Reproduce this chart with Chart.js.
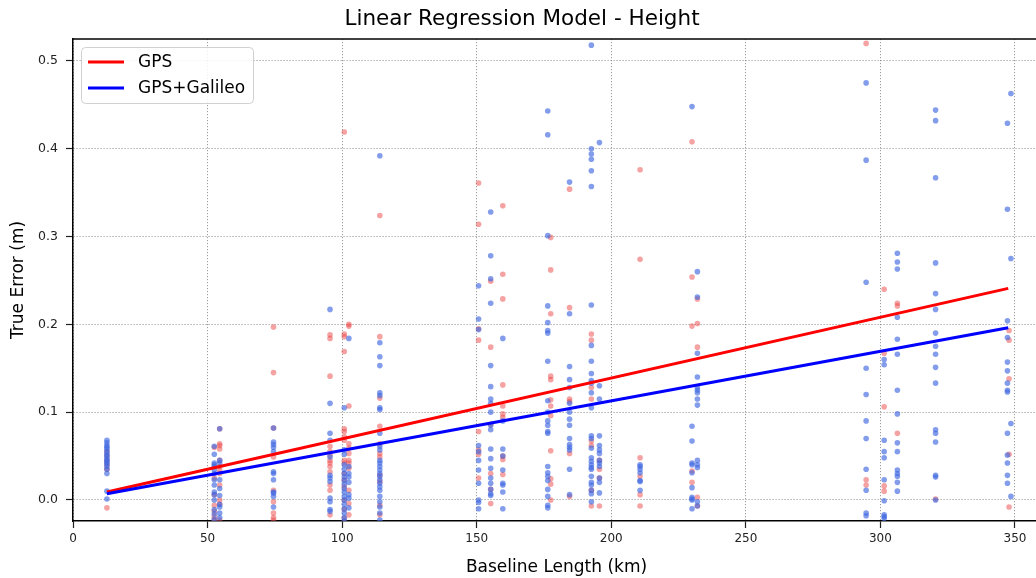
<!DOCTYPE html>
<html>
<head>
<meta charset="utf-8">
<script src="https://cdn.jsdelivr.net/npm/chart.js@4/dist/chart.umd.min.js"></script>
<style>
  html, body { margin: 0; padding: 0; background: #fff; overflow: hidden; }
  #wrap { width: 1044px; height: 578px; }
</style>
</head>
<body>
<div id="wrap"><canvas id="chart" width="1044" height="578"></canvas></div>
<script>
// baselines (km) and the true height errors (m) seen at each of them
const gpsBaselines = [12.6, 52.5, 54.5, 74.5, 95.5, 100.8, 102.5, 114, 150.7, 155.2, 159.7, 177.5, 184.5,
  192.6, 195.6, 210.7, 230, 232, 294.7, 301.4, 306.3, 320.5, 347.8];
const gpsErrors = [
  [-0.009, 0.04, 0.045, 0.05, 0.055, 0.035],
  [0.06, -0.006, -0.013, -0.019, -0.023, 0.006, 0.025],
  [0.064, 0.062, 0.058, 0.038, 0.034, 0.03, 0.017, 0.0, -0.023, 0.045, -0.005, 0.081],
  [0.197, 0.145, 0.082, 0.049, 0.011, -0.002, -0.015, -0.02, -0.023],
  [0.188, 0.184, 0.141, 0.061, 0.055, 0.051, 0.045, 0.042, 0.038, 0.032, 0.017, 0.011, -0.017],
  [0.419, 0.189, 0.186, 0.169, 0.081, 0.078, 0.072, 0.068, 0.045, 0.042, 0.03, 0.023, 0.015, 0.0, -0.011, -0.021],
  [0.2, 0.198, 0.107, 0.064, 0.059, 0.053, 0.045, 0.042, 0.036, 0.011, -0.004, -0.017],
  [0.324, 0.186, 0.116, 0.084, 0.064, 0.053, 0.049, 0.028, 0.021, -0.006, -0.017],
  [0.361, 0.314, 0.195, 0.182, 0.078, 0.057, 0.052, 0.025],
  [0.249, 0.174, 0.086, 0.03, 0.012, -0.004],
  [0.335, 0.257, 0.229, 0.131, 0.107, 0.098, 0.094, 0.05, 0.046, 0.029],
  [0.299, 0.262, 0.212, 0.141, 0.137, 0.114, 0.107, 0.096, 0.056, 0.024, 0.018, 0.0],
  [0.354, 0.219, 0.115, 0.112, 0.053, 0.004],
  [0.189, 0.182, 0.128, 0.115, 0.067, 0.062, 0.011, -0.007],
  [0.045, 0.035, 0.025, -0.007],
  [0.376, 0.274, 0.048, 0.027, 0.006, -0.007],
  [0.408, 0.254, 0.198, 0.033, 0.02],
  [0.229, 0.201, 0.174, 0.003, -0.007],
  [0.52, 0.023, 0.017],
  [0.24, 0.167, 0.106, 0.016, 0.01],
  [0.224, 0.221, 0.076],
  [0.001],
  [0.193, 0.182, 0.138, 0.052, -0.008]
];

const galBaselines = [12.6, 52.5, 54.5, 74.5, 95.5, 100.8, 102.5, 114, 150.7, 155.2, 159.7, 176.4, 184.5,
  192.6, 195.6, 210.7, 230, 232, 294.7, 301.4, 306.3, 320.5, 347.2, 348.5];
const galErrors = [
  [0.068, 0.065, 0.062, 0.06, 0.058, 0.055, 0.052, 0.05, 0.047, 0.045, 0.043, 0.041, 0.038, 0.035, 0.03, 0.01, 0.001],
  [0.061, 0.052, 0.042, 0.04, 0.038, 0.034, 0.03, 0.023, 0.017, 0.009, 0.006, 0.0, -0.011, -0.016, -0.022],
  [0.081, 0.045, 0.042, 0.023, 0.013, 0.005, -0.005, -0.008, -0.015, -0.02],
  [0.082, 0.066, 0.063, 0.06, 0.055, 0.032, 0.03, 0.023, 0.009, 0.008, 0.004, -0.008],
  [0.217, 0.11, 0.076, 0.068, 0.049, 0.028, 0.025, 0.021, 0.002, -0.002, -0.011, -0.013],
  [0.105, 0.057, 0.052, 0.04, 0.035, 0.03, 0.026, 0.022, 0.018, 0.013, 0.009, 0.004, 0.0, -0.005, -0.01, -0.015, -0.02, -0.024],
  [0.184, 0.038, 0.03, 0.026, 0.02, 0.006, 0.002, -0.009],
  [0.392, 0.179, 0.163, 0.153, 0.122, 0.119, 0.105, 0.103, 0.076, 0.061, 0.057, 0.045, 0.042, 0.038, 0.034, 0.03,
   0.027, 0.023, 0.019, 0.015, 0.011, 0.004, -0.002, -0.008, -0.015, -0.023],
  [0.244, 0.206, 0.194, 0.062, 0.055, 0.045, 0.034, 0.019, 0.0, -0.003, -0.01],
  [0.328, 0.278, 0.252, 0.224, 0.153, 0.129, 0.115, 0.11, 0.1, 0.085, 0.08, 0.058, 0.047, 0.036, 0.025, 0.019, 0.012, 0.007, 0.005],
  [0.184, 0.09, 0.058, 0.05, 0.034, 0.019, 0.017, 0.009, -0.01],
  [0.443, 0.416, 0.301, 0.221, 0.202, 0.193, 0.19, 0.158, 0.113, 0.1, 0.09, 0.085, 0.078, 0.076, 0.038, 0.031,
   0.027, 0.022, 0.012, 0.004, -0.006, -0.009],
  [0.362, 0.212, 0.152, 0.137, 0.128, 0.11, 0.1, 0.092, 0.085, 0.07, 0.063, 0.06, 0.057, 0.035, 0.006],
  [0.518, 0.4, 0.394, 0.388, 0.375, 0.357, 0.222, 0.176, 0.158, 0.144, 0.136, 0.133, 0.122, 0.105, 0.073, 0.07,
   0.059, 0.048, 0.044, 0.04, 0.037, 0.035, 0.027, 0.02, 0.017, 0.011, 0.007, -0.002],
  [0.407, 0.13, 0.115, 0.073, 0.062, 0.057, 0.053, 0.045, 0.042, 0.038, 0.025, 0.02, 0.008],
  [0.04, 0.038, 0.035, 0.031, 0.022, 0.021, 0.011],
  [0.448, 0.084, 0.067, 0.042, 0.04, 0.031, 0.014, 0.003, 0.001, 0.0, -0.01],
  [0.26, 0.231, 0.167, 0.14, 0.128, 0.125, 0.122, 0.115, 0.108, 0.045, 0.04, 0.037, -0.002, -0.007],
  [0.475, 0.387, 0.248, 0.15, 0.12, 0.09, 0.07, 0.035, 0.011, -0.015, -0.018],
  [0.16, 0.154, 0.068, 0.055, 0.048, 0.023, -0.001, -0.017, -0.019, -0.021],
  [0.281, 0.271, 0.263, 0.208, 0.183, 0.166, 0.125, 0.098, 0.065, 0.055, 0.034, 0.03, 0.027, 0.02, 0.01],
  [0.444, 0.432, 0.367, 0.27, 0.235, 0.217, 0.19, 0.175, 0.166, 0.151, 0.133, 0.08, 0.076, 0.066, 0.028, 0.026, 0.0],
  [0.429, 0.331, 0.204, 0.185, 0.157, 0.147, 0.133, 0.125, 0.123, 0.076, 0.051, 0.042, 0.028, 0.019],
  [0.463, 0.275, 0.087, 0.004]
];

// fitted lines, end points
const fitX = [12.6, 347.5];
const gpsFit = [0.009, 0.241];
const galFit = [0.007, 0.196];

const seriesNames = ['GPS', 'GPS+Galileo'];
const xTicks = [0, 50, 100, 150, 200, 250, 300, 350];
const yTicks = [0.0, 0.1, 0.2, 0.3, 0.4, 0.5];

function toPoints(xs, ys) {
  const pts = [];
  xs.forEach((x, i) => ys[i].forEach(v => pts.push({ x: x, y: v })));
  return pts;
}

const FONT = "'DejaVu Sans', sans-serif";

const topSpine = {
  id: 'topSpine',
  afterDraw(chart) {
    const { ctx, chartArea } = chart;
    ctx.save();
    ctx.strokeStyle = '#000';
    ctx.lineWidth = 1.3;
    ctx.beginPath();
    ctx.moveTo(chartArea.left, chartArea.top);
    ctx.lineTo(chartArea.right, chartArea.top);
    ctx.stroke();
    ctx.restore();
  }
};

const legendBox = {
  id: 'legendBox',
  afterDraw(chart) {
    const ctx = chart.ctx;
    ctx.save();
    ctx.beginPath();
    ctx.roundRect(81.5, 47.5, 172, 56, 4);
    ctx.fillStyle = 'rgba(255,255,255,0.85)';
    ctx.fill();
    ctx.strokeStyle = '#d0d0d0';
    ctx.lineWidth = 1;
    ctx.stroke();
    const cols = ['#ff0000', '#0000ff'];
    const ys = [62, 88];
    ctx.font = '17px ' + FONT;
    ctx.textBaseline = 'middle';
    ctx.textAlign = 'left';
    seriesNames.forEach((name, i) => {
      ctx.strokeStyle = cols[i];
      ctx.lineWidth = 3;
      ctx.beginPath();
      ctx.moveTo(88, ys[i]);
      ctx.lineTo(124, ys[i]);
      ctx.stroke();
      ctx.fillStyle = '#000';
      ctx.fillText(name, 138, ys[i] + 1);
    });
    ctx.restore();
  }
};

new Chart(document.getElementById('chart'), {
  type: 'scatter',
  data: {
    datasets: [
      {
        label: seriesNames[1] + ' fit',
        type: 'line',
        data: fitX.map((x, i) => ({ x: x, y: galFit[i] })),
        borderColor: '#0000ff',
        borderWidth: 3,
        pointRadius: 0,
        fill: false,
        order: 0
      },
      {
        label: seriesNames[0] + ' fit',
        type: 'line',
        data: fitX.map((x, i) => ({ x: x, y: gpsFit[i] })),
        borderColor: '#ff0000',
        borderWidth: 3,
        pointRadius: 0,
        fill: false,
        order: 1
      },
      {
        label: seriesNames[1],
        data: toPoints(galBaselines, galErrors),
        backgroundColor: 'rgba(65,105,225,0.65)',
        borderWidth: 0,
        pointRadius: 2.8,
        order: 2
      },
      {
        label: seriesNames[0],
        data: toPoints(gpsBaselines, gpsErrors),
        backgroundColor: 'rgba(235,70,70,0.5)',
        borderWidth: 0,
        pointRadius: 2.8,
        order: 3
      }
    ]
  },
  options: {
    responsive: false,
    animation: false,
    events: [],
    layout: { padding: 0 },
    plugins: {
      legend: { display: false },
      tooltip: { enabled: false },
      title: {
        display: true,
        text: 'Linear Regression Model - Height',
        color: '#000',
        font: { family: FONT, size: 21.5, weight: 'normal' },
        padding: { top: 7, bottom: 6.2 }
      }
    },
    scales: {
      x: {
        type: 'linear',
        min: 0,
        max: 359.3,
        afterBuildTicks: s => { s.ticks = xTicks.map(v => ({ value: v })); },
        afterFit: s => { s.height = 57; },
        ticks: {
          color: '#222',
          font: { family: FONT, size: 12 },
          padding: 4,
          maxRotation: 0,
          callback: v => String(v)
        },
        grid: {
          color: 'rgba(100,100,100,0.8)',
          lineWidth: 0.8,
          tickColor: '#222',
          tickLength: 7,
          tickWidth: 1.2,
          tickBorderDash: []
        },
        border: { color: '#000', width: 1.5, dash: [1.2, 1.8] },
        title: {
          display: true,
          text: 'Baseline Length (km)',
          color: '#000',
          font: { family: FONT, size: 17 },
          padding: { top: 0, bottom: 0 }
        }
      },
      y: {
        type: 'linear',
        min: -0.024,
        max: 0.525,
        afterBuildTicks: s => { s.ticks = yTicks.map(v => ({ value: v })); },
        afterFit: s => { s.width = 73; },
        ticks: {
          color: '#222',
          font: { family: FONT, size: 12.5 },
          padding: 8,
          callback: v => v.toFixed(1)
        },
        grid: {
          color: 'rgba(100,100,100,0.8)',
          lineWidth: 0.8,
          tickColor: '#222',
          tickLength: 7,
          tickWidth: 1.2,
          tickBorderDash: []
        },
        border: { color: '#000', width: 1.5, dash: [1.2, 1.8] },
        title: {
          display: true,
          text: 'True Error (m)',
          color: '#000',
          font: { family: FONT, size: 17 },
          padding: { top: 8, bottom: 0 }
        }
      }
    }
  },
  plugins: [topSpine, legendBox]
});
</script>
</body>
</html>
